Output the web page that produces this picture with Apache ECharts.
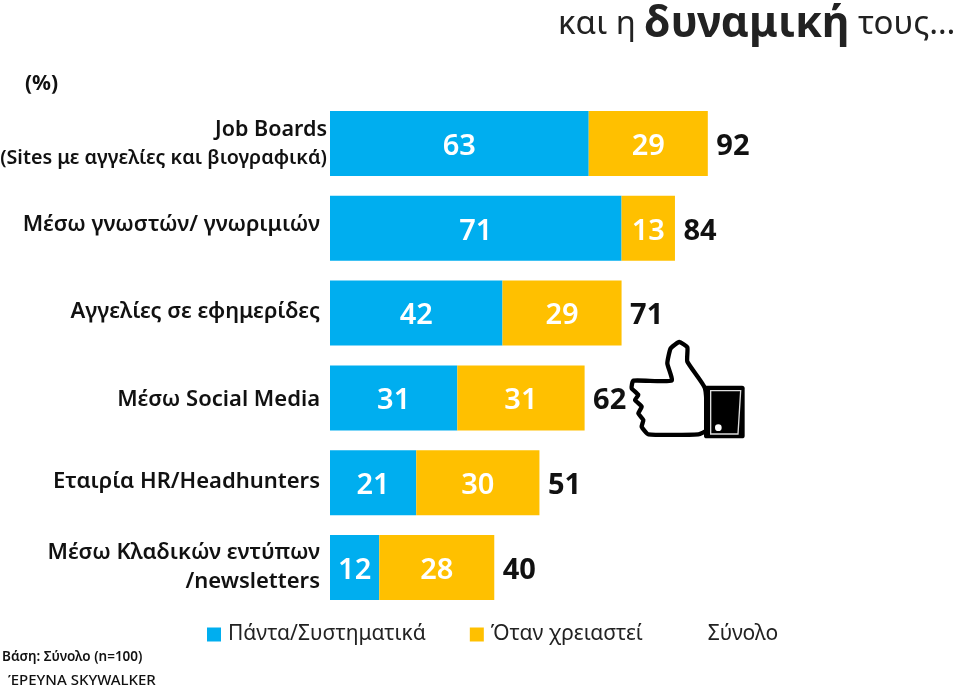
<!DOCTYPE html>
<html><head><meta charset="utf-8">
<style>html,body{margin:0;padding:0;background:#fff}#c{width:960px;height:686px}</style>
<script src="https://cdn.jsdelivr.net/npm/echarts@6/dist/echarts.min.js"></script></head>
<body><div id="c"></div>
<script>
const categories = ["Job Boards\n(Sites με αγγελίες και βιογραφικά)","Μέσω γνωστών/ γνωριμιών","Αγγελίες σε εφημερίδες","Μέσω Social Media","Εταιρία HR/Headhunters","Μέσω Κλαδικών εντύπων\n/newsletters"];
const always = [63,71,42,31,21,12];
const whenNeeded = [29,13,29,31,30,28];
const totals = [92,84,71,62,51,40];
const seriesNames = ["Πάντα/Συστηματικά","Όταν χρειαστεί","Σύνολο"];
const FONT = '"Noto Sans"';
const BLUE = '#00AEEF', GOLD = '#FFC000';
const chart = echarts.init(document.getElementById('c'), null, {renderer:'canvas'});
const inLabel = {show:true, position:'inside', offset:[0,3], color:'#fff', fontFamily:FONT, fontWeight:600, fontSize:29};
const catStyle = {fontFamily:FONT,fontWeight:600,fontSize:22,color:'#111',lineHeight:29};
chart.setOption({
  animation:false,
  backgroundColor:'#fff',
  title:{left:553, top:-2, text:'και η {b|δυναμική} τους…',
    textStyle:{fontFamily:FONT, fontWeight:400, fontSize:33, color:'#222',
      rich:{b:{fontFamily:FONT, fontWeight:700, fontSize:43, color:'#222'}}}},
  legend:{left:202, top:619, itemWidth:14, itemHeight:14, itemGap:44,
    selectedMode:false, icon:'rect',
    textStyle:{fontFamily:FONT, fontSize:21, color:'#222', padding:[0,0,0,2]},
    data:[{name:seriesNames[0]},{name:seriesNames[1]},{name:seriesNames[2], itemStyle:{opacity:0}}]},
  grid:{left:330, top:101, width:616, height:509, outerBoundsMode:'none', containLabel:false},
  xAxis:{type:'value', min:0, max:150, show:false},
  yAxis:{type:'category', inverse:true, data:categories,
    axisLine:{show:false}, axisTick:{show:false}, splitLine:{show:false},
    axisLabel:{margin:3, align:'right',
      fontFamily:FONT, fontWeight:600, fontSize:22, color:'#111',
      formatter:(v,i)=>{
        const parts=v.split('\n');
        if(i===0) return '{j|'+parts[0]+'}\n{a|'+parts[1]+'}';
        return parts.map(s=>'{r'+i+'|'+s+'}').join('\n');
      },
      rich:{
        j:{fontFamily:FONT,fontWeight:600,fontSize:21.5,color:'#111',lineHeight:30,padding:[2,0,0,0]},
        a:{fontFamily:FONT,fontWeight:600,fontSize:19.7,color:'#111',lineHeight:30},
        r1:{...catStyle,padding:[0,7,8,0]},
        r2:{...catStyle,padding:[0,7,2,0]},
        r3:{...catStyle,padding:[4,7,0,0]},
        r4:{...catStyle,padding:[0,7,2,0]},
        r5:{...catStyle,padding:[0,7,0,0]}
      }}},
  series:[
    {name:seriesNames[0], type:'bar', stack:'s', barWidth:65, data:always, itemStyle:{color:BLUE}, label:inLabel},
    {name:seriesNames[1], type:'bar', stack:'s', barWidth:65, data:whenNeeded, itemStyle:{color:GOLD}, label:inLabel},
    {name:seriesNames[2], type:'line', data:totals, symbol:'circle', symbolSize:1, showSymbol:true, lineStyle:{opacity:0}, itemStyle:{color:'rgba(0,0,0,0)'},
      label:{show:true, position:'right', distance:8, offset:[0,3], color:'#111', fontFamily:FONT, fontWeight:700, fontSize:29}}
  ],
  graphic:[
    {type:'text', left:25, top:74, style:{text:'(%)', fontFamily:FONT, fontWeight:700, fontSize:21, fill:'#111'}},
    {type:'text', left:2, top:650, style:{text:'Βάση: Σύνολο (n=100)', fontFamily:FONT, fontWeight:600, fontSize:13.5, fill:'#111'}},
    {type:'text', left:8, top:673, style:{text:'ΈΡΕΥΝΑ SKYWALKER', fontFamily:FONT, fontWeight:500, fontSize:15, fill:'#111'}},
    {type:'group', x:580, y:320, scaleX:1/3, scaleY:1/3, children:[
      {type:'polygon', shape:{smooth:0.15, points:[[160,182],[275,182],[262,130],[272,85],[298,66],[322,82],[322,125],[375,205],[380,330],[355,343],[205,343],[185,320],[190,300],[175,280],[185,260],[165,240],[175,225],[155,205]]},
        style:{fill:'#fff', stroke:'#000', lineWidth:13, lineJoin:'round'}},
      {type:'rect', shape:{x:372,y:197,width:122,height:158,r:8}, style:{fill:'#000'}},
      {type:'polygon', shape:{points:[[392,212],[482,212],[474,342],[392,342]]}, style:{fill:'#000', stroke:'#ddd', lineWidth:4}},
      {type:'circle', shape:{cx:415,cy:323,r:10}, style:{fill:'#fff'}}
    ]}
  ]
});
</script></body></html>
